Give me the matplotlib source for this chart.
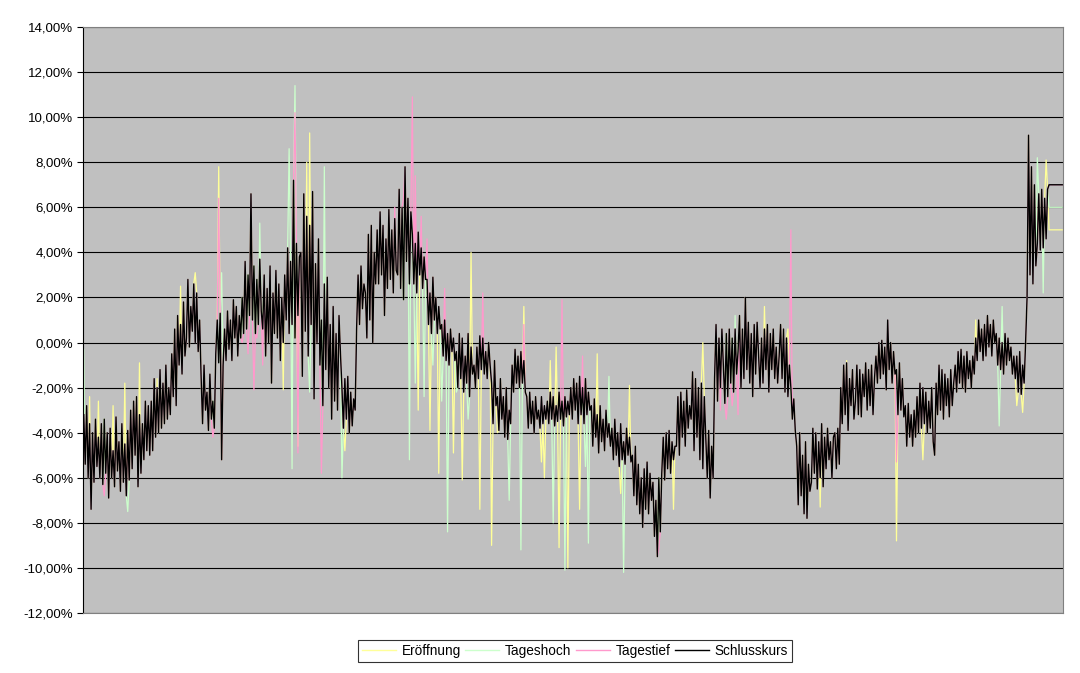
import numpy as np
import matplotlib
matplotlib.use('Agg')
import matplotlib.pyplot as plt
from matplotlib.ticker import FuncFormatter

# daily change in percent (Schlusskurs = close)
close = [
    -3.2, -5.4, -2.8, -6.0, -3.6, -7.4, -4.0, -6.2, -3.4, -5.5, -4.2, -6.0,
    -3.6, -6.3, -3.4, -5.8, -4.0, -6.9, -3.8, -6.0, -4.8, -6.4, -3.3, -5.7, -4.4, -6.6, -3.6, -6.2, -4.5, -6.8, -3.9, -6.1,
    -3.0, -5.6, -2.6, -5.0, -2.4, -6.4, -3.2, -5.8, -3.6, -5.2, -2.6, -4.8, -2.8, -5.0,
    -2.6, -4.8, -1.6, -4.2, -2.0, -4.0, -1.2, -3.8, -1.8, -3.6, -1.0, -3.4, -2.0, -3.2,
    -0.5, -2.4, 0.6, -2.8, 1.2, -1.0, 0.8, -1.4, 1.8, -0.6,
    0.2, 2.8, -0.2, 1.6, 0.5, 2.6, 0.0, 2.2, -0.4, 1.0,
    -1.5, -3.6, -1.0, -3.0, -2.2, -3.9, -1.4, -3.4, -2.6, -3.8,
    -0.5, 1.0, -0.9, 1.3, -5.2, -1.0,
    0.6, -0.8, 1.4, -0.3, 1.0, -0.8, 1.9, 0.2, 1.6, -0.6, 1.2, 0.2,
    2.0, 0.4, 3.6, 0.6, 3.0, 1.2, 6.6, 1.0, 3.4, 0.4, 2.8, 0.8, 3.7, 1.4,
    0.6, 3.0, -0.6, 2.4, 0.0, 3.4, -1.8, 2.2, 0.4, 3.2, 0.2, 2.6, -0.8, 2.0, 0.0, 3.0,
    1.0, 4.2, 0.4, 3.6, 0.8, 7.2, 0.2, 4.4, 1.2, 3.8,
    4.0, -1.5, 6.6, 0.5, 5.6, -0.6, 5.2, 0.8, 6.7, -2.5, 3.5, 0.0, 4.6, -1.0,
    1.0, -2.8, 2.6, -1.2, 2.9, -2.0, 0.8, -3.4, 1.6, -2.6, 0.4, -3.0, 1.2, -0.5,
    -2.0, -3.8, -1.6, -3.4, -1.5, -4.0, -2.2, -3.7, -2.5, -3.0,
    0.6, 3.0, 0.8, 3.4, 1.5, 2.6,
    2.2, 0.2, 4.8, 1.0, 5.2, 0.0, 4.0, 2.6,
    5.0, 2.6, 5.8, 3.0, 5.2, 1.2, 4.6, 2.4, 5.9, 2.8, 5.0, 2.2, 5.5, 3.2,
    3.0, 6.8, 2.4, 6.0, 1.9, 7.8, 3.6, 6.4, 2.6, 5.8,
    4.8, 2.6, 4.4, 2.2, 4.9, 3.0, 4.2, 2.4, 3.8, 2.8,
    2.8, 0.8, 2.2, 0.4, 2.9, 1.0, 2.0, 0.4, 1.6, 0.6,
    0.8, -0.6, 1.0, -0.8, 0.4, -1.0, 0.6, -0.4, 0.2, -0.8,
    -0.4, -2.0, 0.4, -1.6, 0.2, -2.2, -0.6, -1.8, 0.4, -2.4, -0.2, -1.4, -1.0, -2.0,
    -0.2, -1.6, 0.3, -1.2, 0.2, -1.4, -0.4, -1.6, 0.0, -1.0,
    -1.8, -3.6, -0.8, -2.8, -2.4, -3.9, -1.6, -3.4,
    -2.4, -4.2, -2.0, -4.3, -3.0, -3.6,
    -1.0, -2.2, -0.3, -1.8, -0.6, -2.0, -0.4, -1.8, -0.8, -2.2,
    -2.4, -3.8, -2.2, -3.6, -2.6, -4.0, -2.4, -3.4, -3.0, -3.8, -2.4, -3.6, -2.8, -3.4,
    -2.6, -3.6, -2.2, -3.4, -2.4, -3.7, -2.8, -3.5, -2.2, -3.4, -2.6, -3.7, -2.4, -3.3, -2.6, -3.2,
    -2.0, -3.4, -1.6, -3.0, -1.8, -3.6, -1.5, -3.2, -2.0, -3.6, -1.6, -3.2, -2.2, -3.0,
    -2.8, -4.6, -2.5, -4.2, -3.2, -4.9, -2.8, -4.4, -3.4, -4.8, -3.0, -4.2, -3.6, -4.6,
    -3.8, -5.2, -3.4, -5.0, -4.0, -5.5, -3.6, -5.2, -4.4, -5.4, -3.8, -5.0, -4.2, -5.3,
    -5.0, -6.8, -4.6, -7.2, -5.4, -7.6, -6.0, -8.2,
    -5.6, -7.4, -5.3, -7.6, -5.8, -7.0,
    -6.2, -8.6, -7.0, -9.5, -6.0, -8.4,
    -5.8, -4.2, -6.1, -4.0, -5.6, -3.9, -5.8, -4.4, -5.2, -4.6,
    -4.6, -2.4, -5.0, -2.2, -4.2, -2.6, -4.6, -2.1, -3.8, -2.8,
    -3.4, -1.3, -4.8, -1.6, -4.2, -2.0, -5.2, -1.8, -5.6, -2.4,
    -4.2, -6.0, -3.9, -6.9, -4.6, -6.0,
    -1.6, 0.8, -2.6, 0.2, -2.0, 0.6, -1.0, -2.7, 0.4, -2.4, 0.6, -1.8, 0.2, -2.2, 0.6, -1.4,
    -0.4, 1.2, -2.0, 0.6, -1.6, 2.0, -1.2, 0.9, -1.8, 0.4, -2.4, 0.8, -1.4, 0.9,
    -0.6, -2.0, 0.2, -1.8, 0.6, -1.2, 0.8, -2.2, 0.4, -1.2, 0.6, -1.6, -0.2, -1.8,
    -0.6, 0.8, -1.6, 0.6, -2.2, 0.2, -2.4, -1.0,
    -2.0, -3.4, -2.5, -3.9,
    -4.6, -7.2, -4.0, -6.8, -5.0, -7.6, -4.4, -7.8, -5.4, -6.6,
    -6.2, -3.8, -5.8, -4.0, -6.5, -4.4, -6.0, -3.6, -6.4, -4.2, -5.6, -3.8, -5.2, -4.4, -6.0, -4.2,
    -4.0, -5.6, -3.8, -5.4,
    -2.0, -3.6, -1.0, -3.2, -0.9, -3.9, -1.6, -2.8, -1.2, -3.4,
    -2.6, -1.0, -3.2, -1.2, -3.3, -1.4, -2.4, -0.9, -3.0, -1.2, -2.8, -1.0, -3.2, -1.6,
    -0.6, -1.8, 0.0, -1.6, 0.1, -1.4, -0.2, -2.1, 1.0, -1.2, 0.0, -1.8, -0.4, -1.4,
    -1.2, -3.2, -0.9, -3.0, -1.6, -3.3,
    -2.8, -4.6, -2.7, -4.2, -3.2, -4.6, -3.0, -4.2,
    -2.4, -4.0, -1.8, -3.8, -2.0, -3.6, -2.2, -4.0, -2.6, -3.8, -2.0, -4.4,
    -5.0, -1.8, -3.2, -1.0, -3.0, -1.2, -3.4, -1.4, -2.8, -1.6, -3.3, -1.2, -2.8, -1.8,
    -1.0, -2.2, -0.4, -1.8, -0.3, -2.0, -0.6, -2.2, -0.4, -1.6, -0.8, -2.0, -0.6, -1.4,
    0.2, -0.8, 1.0, -0.4, 0.6, -0.8, 0.8, -0.6, 1.2, -0.2, 0.8, -0.6, 1.0, 0.0,
    0.4, -1.0, 0.2, -1.2, 0.0, -1.4, 0.4, -1.0, 0.2, -0.8, -0.2, -1.4, -0.6, -1.6,
    -0.6, -2.2, -0.4, -2.3, -1.0, -1.8,
    0.0, 2.0, 9.2, 3.0, 7.8, 2.6, 7.0, 3.4,
    4.4, 6.6, 4.1, 6.8, 4.2, 6.4, 4.6, 6.8,
    7.0, 7.0, 7.0, 7.0, 7.0, 7.0, 7.0, 7.0, 7.0, 7.0,
]

# where open / high / low stick out from the close line (index: value)
open_spikes = {4: -2.4, 10: -2.6, 20: -2.8, 28: -1.8, 38: -0.9, 50: -1.6, 66: 2.5, 76: 3.1,
               92: 7.8, 136: -2.1, 146: -4.6, 152: 8.0, 154: 9.3, 178: -4.8, 228: -3.0,
               236: -3.9, 242: -5.8, 252: -4.9, 258: -6.1, 264: 4.0, 270: -7.4, 278: -9.0,
               282: -4.0, 300: 1.6, 312: -5.3, 314: -6.0, 318: -0.8, 322: -0.2, 324: -9.1,
               330: -10.0, 338: -7.4, 350: -0.5, 366: -6.7, 372: -1.9, 402: -7.4, 422: 0.0,
               464: 1.6, 480: 0.6, 502: -7.3, 520: -0.8, 548: 0.3, 554: -8.8, 572: -5.2,
               608: 1.0, 636: -2.8, 640: -3.1, 656: 8.1,
               658: 5.0, 659: 5.0, 660: 5.0, 661: 5.0, 662: 5.0, 663: 5.0, 664: 5.0,
               665: 5.0, 666: 5.0, 667: 5.0}
high_spikes = {0: -0.3, 30: -7.5, 94: 3.1, 120: 5.3, 140: 8.6, 142: -5.6, 144: 11.4,
               154: -2.2, 164: 7.8, 176: -6.0, 222: -5.2, 226: -1.8, 232: -2.4, 238: -1.0,
               244: -2.6, 248: -8.4, 254: -2.2, 262: -3.4, 290: -7.0, 298: -9.2, 320: -8.0,
               328: -10.1, 342: -5.5, 344: -8.9, 358: -1.5, 368: -10.2, 444: 1.2, 624: -3.7,
               626: 1.6, 650: 8.2, 654: 2.2,
               658: 6.0, 659: 6.0, 660: 6.0, 661: 6.0, 662: 6.0, 663: 6.0, 664: 6.0,
               665: 6.0, 666: 6.0, 667: 6.0}
low_spikes = {14: -6.8, 88: -4.2, 92: 6.4, 108: 0.0, 112: -0.5, 116: -2.1, 118: 0.2,
              122: -1.0, 124: -0.5, 144: 10.2, 146: -4.9, 162: -5.8, 212: 6.0, 218: 6.4,
              224: 10.9, 226: 7.4, 230: 5.6, 234: 4.6, 246: 2.4, 272: 2.2, 300: 0.8,
              326: 1.9, 340: -0.6, 392: -9.1, 434: -3.0, 438: -3.4, 442: -2.8, 446: -3.2,
              482: 5.0, 554: -5.3}

def with_spikes(base, spikes):
    s = list(base)
    for k, v in spikes.items():
        s[k] = v
    return s

eroeffnung = with_spikes(close, open_spikes)
tageshoch = with_spikes(close, high_spikes)
tagestief = with_spikes(close, low_spikes)

labels = ['Eröffnung', 'Tageshoch', 'Tagestief', 'Schlusskurs']
colors = ['#FFFF99', '#CCFFCC', '#FF99CC', '#000000']
widths = [0.9, 0.9, 0.9, 1.0]
yticks = list(range(-12, 15, 2))

plt.rcParams['font.family'] = ['Liberation Sans', 'DejaVu Sans']

fig = plt.figure(figsize=(10.8, 6.73), dpi=100)
ax = fig.add_axes([83/1080, 1 - 613/673, 980/1080, 586/673])
ax.set_facecolor('#C0C0C0')

x = np.arange(len(close))
for series, lab, col, w in zip([eroeffnung, tageshoch, tagestief, close], labels, colors, widths):
    ax.plot(x, series, color=col, lw=w, label=lab)

ax.set_xlim(-0.5, len(close) - 0.5)
ax.set_ylim(-12, 14)
ax.set_yticks(yticks)
ax.yaxis.set_major_formatter(FuncFormatter(lambda v, p: f'{v:.2f}%'.replace('.', ',')))
ax.set_xticks([])
ax.set_axisbelow(True)
ax.yaxis.grid(True, color='black', lw=0.8)
ax.tick_params(axis='y', length=4, width=0.8, labelsize=9.5, pad=3, colors='black')

for side in ['top', 'right', 'bottom']:
    ax.spines[side].set_color('#808080')
    ax.spines[side].set_linewidth(0.8)
ax.spines['left'].set_color('black')
ax.spines['left'].set_linewidth(0.8)

leg = fig.legend(loc='center', bbox_to_anchor=(575/1080, 1 - 651/673), ncol=4,
                 fontsize=9.8, frameon=True, fancybox=False, edgecolor='black',
                 handlelength=2.5, handletextpad=0.4, columnspacing=0.35,
                 borderpad=0.3, borderaxespad=0)
leg.get_frame().set_linewidth(0.8)
for line in leg.get_lines():
    line.set_linewidth(1.0)

fig.savefig('out.png', dpi=100)
